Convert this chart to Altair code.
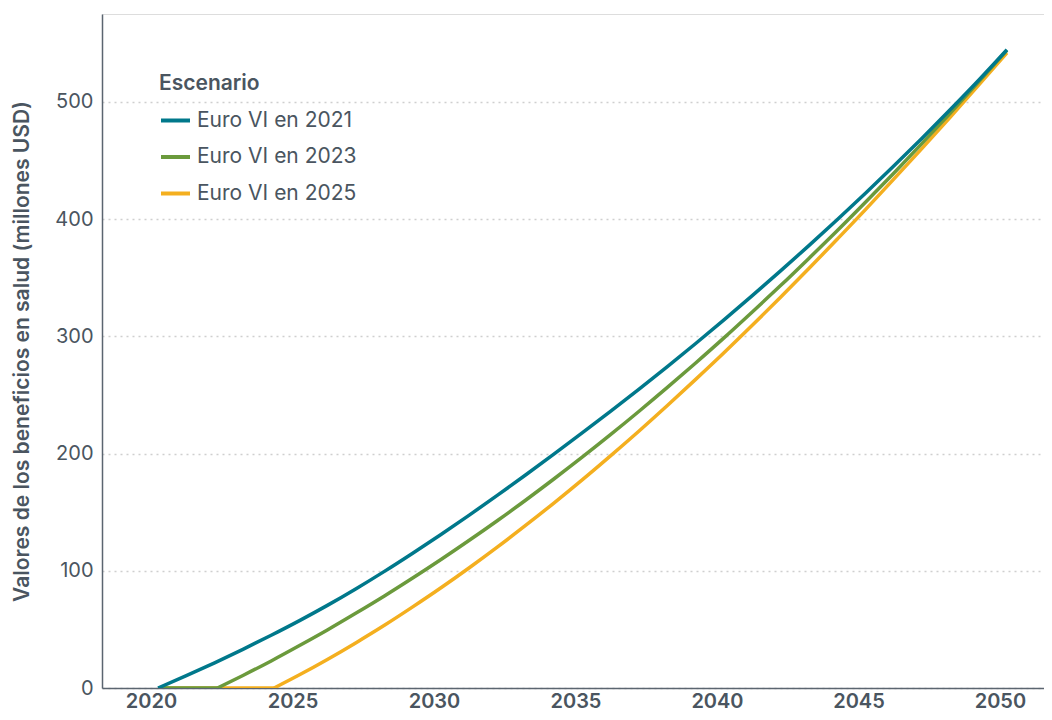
import altair as alt
import pandas as pd

years = list(range(2020, 2051))
euro_vi_2021 = [0, 10.5, 21.5, 33, 45, 57.5, 70.7, 84.7, 99.5, 115, 131, 147.5, 164.5,
                181.9, 199.7, 217.8, 236.2, 255, 274.2, 293.9, 314.1, 334.7, 355.8, 377.4,
                399.5, 422.1, 445.3, 469.1, 493.5, 518.5, 544.5]
euro_vi_2023 = [0, 0, 0, 10.7, 23.1, 36.2, 49.7, 63.9, 78.5, 93.8, 109.6, 126, 142.9,
                160.4, 178.5, 197.1, 216.3, 236.1, 256.4, 277.3, 298.7, 320.8, 343.3, 366.5,
                390.1, 414.4, 439.2, 464.6, 490.5, 517.1, 544.1]
euro_vi_2025 = [0, 0, 0, 0, 0, 11.3, 24.6, 38.7, 53.5, 69.2, 85.5, 102.6, 120.4, 138.9,
                158, 177.8, 198.3, 219.3, 241, 263.3, 286, 309.4, 333.4, 357.8, 382.8,
                408.1, 434.1, 460.4, 487.1, 514.3, 541.9]
# year at which each series leaves zero
start_years = [2020.0, 2022.1, 2024.1]

series_names = ["Euro VI en 2021", "Euro VI en 2023", "Euro VI en 2025"]
series_colors = ["#00788b", "#6b9a3c", "#f4af1f"]
x_ticks = [2020, 2025, 2030, 2035, 2040, 2045, 2050]
y_ticks = [0, 100, 200, 300, 400, 500]
y_title = "Valores de los beneficios en salud (millones USD)"

# drawing order: 2025 first, 2021 on top; each series split into its flat
# zero stretch and its rising curve
rows = []
for idx in [2, 1, 0]:
    name = series_names[idx]
    vals = [euro_vi_2021, euro_vi_2023, euro_vi_2025][idx]
    start = start_years[idx]
    if start > years[0]:
        rows.append({"Año": years[0], "Valor": 0, "Escenario": name, "Tramo": "base"})
        rows.append({"Año": start, "Valor": 0, "Escenario": name, "Tramo": "base"})
    rows.append({"Año": start, "Valor": 0, "Escenario": name, "Tramo": "curva"})
    for yr, v in zip(years, vals):
        if yr > start:
            rows.append({"Año": yr, "Valor": v, "Escenario": name, "Tramo": "curva"})
df = pd.DataFrame(rows)

FONT = "Inter"
TXT = "#4a5560"
AX = "#5b6570"

chart = alt.Chart(df).mark_line(strokeWidth=3.5, interpolate="monotone", clip=True).encode(
    x=alt.X("Año:Q",
            scale=alt.Scale(domain=[2018.02, 2051.31], nice=False, zero=False),
            axis=alt.Axis(values=x_ticks, format="d", title=None, grid=False, ticks=False,
                          tickSize=0, labelPadding=19, labelBaseline="alphabetic",
                          labelOffset=-7, labelFlush=False,
                          labelFont=FONT, labelFontSize=20, labelFontWeight=600,
                          labelColor=TXT, domainColor=AX, domainWidth=1.5)),
    y=alt.Y("Valor:Q",
            scale=alt.Scale(domain=[0, 575], nice=False),
            axis=alt.Axis(values=y_ticks, title=y_title, grid=True, gridDash=[2, 4],
                          gridColor="#cfcfcf", gridWidth=1.5, ticks=False, tickSize=0,
                          labelPadding=9, labelFont=FONT, labelFontSize=20,
                          labelFontWeight=400, labelColor=TXT, domainColor=AX,
                          domainWidth=1.5, titleFont=FONT, titleFontSize=21,
                          titleFontWeight=600, titleColor=TXT, titleX=-70, titleY=337)),
    color=alt.Color("Escenario:N",
                    scale=alt.Scale(domain=series_names, range=series_colors),
                    legend=alt.Legend(orient="none", legendX=57, legendY=59, padding=0,
                                      title="Escenario", titleFont=FONT, titleFontSize=21,
                                      titleFontWeight=600, titleColor=TXT, titlePadding=10,
                                      labelFont=FONT, labelFontSize=21, labelColor=TXT,
                                      symbolType="stroke", symbolStrokeWidth=4,
                                      symbolSize=841, labelOffset=5, rowPadding=9.5)),
    detail="Tramo:N",
).properties(
    width=942, height=674,
    autosize=alt.AutoSizeParams(type="none"),
    padding={"left": 94, "top": 6, "right": 0, "bottom": 24},
).configure_view(stroke=None).configure(background="white")

chart.save("out.html", embed_options={"renderer": "svg", "actions": False})
